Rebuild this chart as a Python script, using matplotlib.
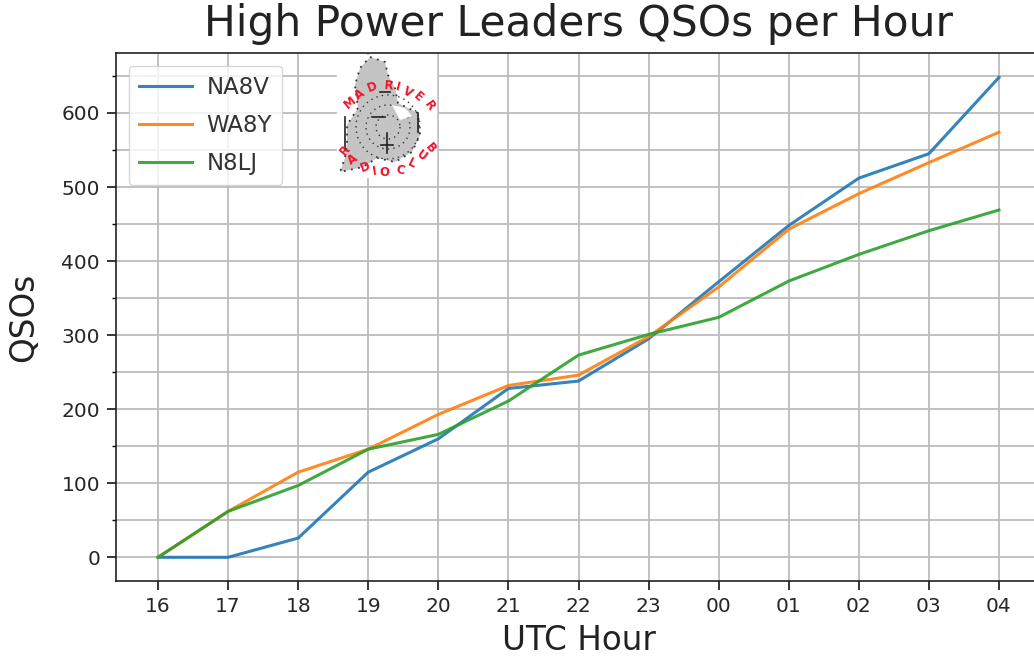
import numpy as np
from matplotlib import pyplot as plt
from matplotlib.patches import Polygon, Rectangle
from matplotlib.ticker import MultipleLocator
from matplotlib.transforms import Affine2D

hours = ['16', '17', '18', '19', '20', '21', '22', '23', '00', '01', '02', '03', '04']
na8v = [0, 0, 26, 115, 160, 228, 238, 295, 372, 448, 512, 545, 648]
wa8y = [0, 62, 115, 146, 193, 232, 246, 298, 365, 443, 491, 533, 574]
n8lj = [0, 62, 97, 146, 166, 211, 273, 301, 324, 373, 409, 441, 469]

W, H = 1034, 657
fig = plt.figure(figsize=(W / 100, H / 100), dpi=100)
# the reference is cropped on the right, so the axes run past the figure edge
ax = fig.add_axes([116 / W, 1 - 581 / H, (1041 - 116) / W, (581 - 53) / H])

x = range(len(hours))
ax.plot(x, na8v, label='NA8V', color='#1f77b4', linewidth=2.2, alpha=0.9, zorder=3)
ax.plot(x, wa8y, label='WA8Y', color='#ff7f0e', linewidth=2.2, alpha=0.9, zorder=3)
ax.plot(x, n8lj, label='N8LJ', color='#2ca02c', linewidth=2.2, alpha=0.9, zorder=3)

ax.set_xlim(-0.6, 12.6)
ax.set_ylim(-32, 681)
ax.set_xticks(list(x))
ax.set_xticklabels(hours)
ax.yaxis.set_major_locator(MultipleLocator(100))
ax.yaxis.set_minor_locator(MultipleLocator(50))
ax.grid(True, which='both', color='#bcbcbc', linewidth=1.3)
ax.set_axisbelow(True)
ax.tick_params(which='major', labelsize=14.5, labelcolor='#262626', length=6.5, width=1.1, pad=5)
ax.tick_params(which='minor', length=3, width=1.0)
for s in ax.spines.values():
    s.set_linewidth(1.2)
    s.set_color('#222222')

ax.set_xlabel('UTC Hour', fontsize=23.5, labelpad=6, color='#222222')
ax.set_ylabel('QSOs', fontsize=23.5, labelpad=15, color='#222222')
ax.set_title('High Power Leaders QSOs per Hour', fontsize=30.5, pad=12, color='#222222')
ax.legend(loc='upper left', fontsize=16.5, borderaxespad=0.55, borderpad=0.45, handlelength=2.3, framealpha=0.8,
          labelcolor='#333333', labelspacing=0.65, handletextpad=0.65)

# club logo, drawn in pixel coordinates on top of the axes
px = Affine2D().scale(1 / W, -1 / H).translate(0, 1) + fig.transFigure
fig.add_artist(Rectangle((337, 55), 99, 122, transform=px, color='white', zorder=4))
outline = [(370, 57), (385, 62), (388, 75), (395, 88), (398, 103), (418, 113), (420, 135),
           (412, 152), (395, 162), (377, 158), (363, 167), (340, 172), (345, 158), (347, 142),
           (347, 125), (358, 108), (355, 85), (360, 68)]
fig.add_artist(Polygon(outline, closed=True, transform=px, facecolor='#c4c4c4', edgecolor='#333333',
                       linewidth=1.3, linestyle=(0, (1, 3)), zorder=5))
cx, cy = 388, 127
for r in [12, 22, 32]:
    t = np.radians(np.arange(0, 360, 5))
    fig.add_artist(plt.Line2D(cx + r * np.cos(t), cy + r * np.sin(t), transform=px, color='#333333',
                              linewidth=1.0, linestyle=(0, (1, 3)), zorder=6))
fig.add_artist(Polygon([(392, 105), (405, 108), (412, 116), (400, 120)], closed=True, transform=px,
                       facecolor='white', edgecolor='none', zorder=6))
for seg in [[(345, 117), (345, 150)], [(372, 117), (385, 117)], [(387, 133), (387, 153)],
            [(381, 145), (393, 145)], [(418, 113), (418, 132)], [(380, 92), (390, 92)]]:
    fig.add_artist(plt.Line2D([seg[0][0], seg[1][0]], [seg[0][1], seg[1][1]], transform=px,
                              color='#222222', linewidth=1.2, zorder=7))
top = [('M', 350, 103, 40), ('A', 360, 95, 35), ('D', 372, 87, 20), ('R', 389, 86, -5), ('I', 398, 87, -15),
       ('V', 408, 92, -30), ('E', 418, 97, -40), ('R', 429, 106, -55)]
bottom = [('R', 345, 150, 50), ('A', 353, 160, 35), ('D', 365, 167, 20), ('I', 375, 171, 8), ('O', 384, 172, 0),
          ('C', 400, 170, -10), ('L', 412, 163, -25), ('U', 422, 156, -35), ('B', 430, 148, -50)]
for ch, lx, ly, rot in top + bottom:
    fig.text(lx, ly, ch, transform=px, color='#f0142a', fontsize=8.5, fontweight='bold',
             rotation=rot, ha='center', va='center', zorder=8)

plt.savefig('out.png', dpi=100)
